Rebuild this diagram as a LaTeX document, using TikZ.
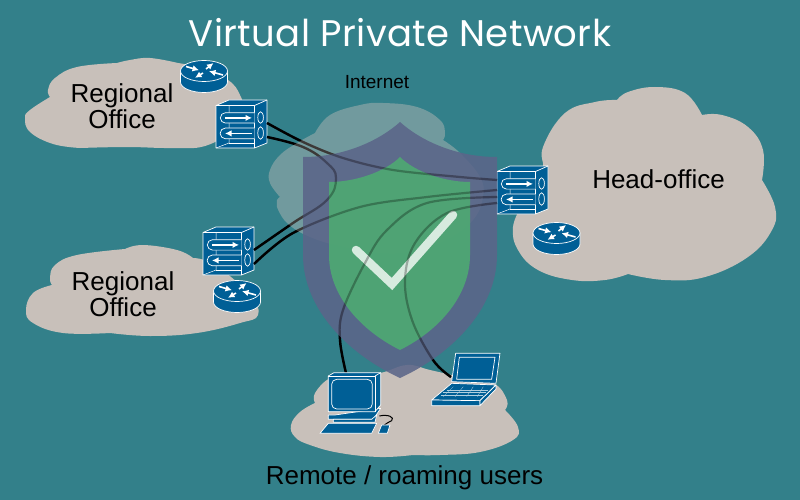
\documentclass[tikz,border=0pt]{standalone}
\usepackage{fontspec}
\setmainfont{Liberation Sans}
\newfontfamily\titlefont[LetterSpace=1]{Poppins}
\usetikzlibrary{arrows.meta}
\definecolor{bgteal}{HTML}{33808A}
\definecolor{cloudc}{HTML}{C8C0BA}
\definecolor{devblue}{HTML}{005F96}
\definecolor{shieldc}{HTML}{5B6589}
\definecolor{greenc}{HTML}{4EA873}
\tikzset{
  cloudshape/.style={fill=cloudc,draw=none},
  devline/.style={draw=white,line width=.7pt,line join=round},
  devfill/.style={fill=devblue,draw=white,line width=.7pt,line join=round},
  wharrow/.style={draw=white,line width=1.6pt,-{Latex[length=6.5pt,width=6.5pt]}},
  cable/.style={draw=black,line width=2.4pt},
  cablefaint/.style={draw=black,line width=2.2pt,opacity=.28},
  label/.style={font=\fontsize{26}{25.5}\selectfont,align=center,text=black,inner sep=0pt},
  router/.pic={
    \path[devfill] (-23.5,0) -- (-23.5,11) arc[start angle=180,end angle=360,x radius=23.5,y radius=-10.5] -- (23.5,0) -- cycle;
    \path[devfill] (0,0) ellipse[x radius=23.5,y radius=10.5];
    \draw[wharrow] (-18,-4.5) -- (-5,-.8);
    \draw[wharrow] (-1,2) -- (-9,6.8);
    \draw[wharrow] (2,-2) -- (9.5,-8);
    \draw[wharrow] (19,4) -- (5,.2);
  },
  firewall/.pic={
    \path[devfill] (0,5.5) -- (13,0) -- (51,0) -- (51,43) -- (38.5,48) -- (0,48) -- cycle;
    \draw[devline] (0,5.5) -- (38.5,5.5) -- (38.5,48);
    \draw[devline] (38.5,5.5) -- (51,0);
    \draw[devline,line width=.5pt] (13,5.5) -- (13,43) -- (0,48);
    \draw[devline,line width=.5pt] (13,43) -- (38.5,43);
    \draw[devline,fill=devblue] (38.5,12.7) -- (9.5,12.7) arc[start angle=270,end angle=90,radius=5.2] -- (38.5,23.1);
    \draw[devline,fill=devblue] (38.5,28) -- (9.5,28) arc[start angle=270,end angle=90,radius=5.4] -- (38.5,38.8);
    \draw[wharrow] (9,17.9) -- (36,17.9);
    \draw[wharrow] (36,33.4) -- (9,33.4);
    \draw[devline] (44.6,17.5) ellipse[x radius=2.8,y radius=5.8];
    \draw[devline] (44.6,33) ellipse[x radius=2.8,y radius=6.3];
    \coordinate (-p1) at (51,23);
    \coordinate (-p2) at (51,37);
    \coordinate (-w1) at (0,14);
    \coordinate (-w2) at (0,24);
    \coordinate (-w3) at (0,31);
    \coordinate (-w4) at (0,37);
  }
}
\newcommand{\cablepaths}[1]{%
  \draw[#1] plot[smooth,tension=.55] coordinates {(fwa-p1) (303,142) (343,158) (393,170) (460,177) (fwh-w1)};
  \draw[#1] plot[smooth,tension=.7] coordinates {(fwa-p2) (303,147) (327,163) (336,178) (327,200) (293,223) (fwb-p1)};
  \draw[#1] plot[smooth,tension=.55] coordinates {(fwb-p2) (293,233) (360,207) (427,197) (fwh-w2)};
  \draw[#1] plot[smooth,tension=.6] coordinates {(fwh-w3) (427,203) (387,230) (365,263) (343,310) (340,340) (desk)};
  \draw[#1] plot[smooth,tension=.6] coordinates {(fwh-w4) (447,213) (415,243) (405,280) (412,320) (433,360) (lap)};
}
\begin{document}
\begin{tikzpicture}[x=1pt,y=-1pt]
\useasboundingbox (0,0) rectangle (800,500);
\fill[bgteal] (0,0) rectangle (800,500);

% office clouds, one smooth run per lobe
\fill[cloudshape] plot[smooth,tension=.7] coordinates {(50,97) (30,110) (25,118) (30,132) (53,144) (80,148)}
  -- plot[smooth,tension=.7] coordinates {(80,148) (127,147) (170,148) (205,146) (230,130) (241,107) (240,95) (228,80) (200,68) (178,63)}
  -- plot[smooth,tension=.7] coordinates {(178,63) (150,58) (130,60) (117,63)}
  -- plot[smooth,tension=.7] coordinates {(117,63) (77,67) (55,78) (48,90) (50,97)} -- cycle;
\fill[cloudshape] plot[smooth,tension=.7] coordinates {(52,285) (33,293) (26,310) (33,323) (63,333) (110,333)}
  -- plot[smooth,tension=.7] coordinates {(110,333) (150,336) (197,333) (240,323) (258,315) (250,295) (215,265) (193,258)}
  -- plot[smooth,tension=.7] coordinates {(193,258) (177,250) (143,245) (125,249)}
  -- plot[smooth,tension=.7] coordinates {(125,249) (77,255) (55,265) (50,278) (52,285)} -- cycle;
\fill[cloudshape] plot[smooth,tension=.7] coordinates {(617,100) (628,92) (655,87) (685,93) (702,115)}
  -- plot[smooth,tension=.7] coordinates {(702,115) (722,115) (748,127) (763,150) (762,180)}
  -- plot[smooth,tension=.7] coordinates {(762,180) (775,207) (772,230) (748,257) (705,277) (665,280) (628,274)}
  -- plot[smooth,tension=.7] coordinates {(628,274) (605,280) (572,280) (538,270) (518,250) (513,227) (522,205)}
  -- plot[smooth,tension=.7] coordinates {(522,205) (542,173) (543,147) (565,113) (595,102) (617,100)} -- cycle;
\fill[cloudshape] plot[smooth,tension=.7] coordinates {(315,403) (300,412) (291,425) (295,437) (310,445) (340,453) (380,457) (413,455)}
  -- plot[smooth,tension=.7] coordinates {(413,455) (440,455) (480,452) (513,440) (518,427) (505,410)}
  -- plot[smooth,tension=.7] coordinates {(505,410) (507,400) (493,383) (460,377)}
  -- plot[smooth,tension=.7] coordinates {(460,377) (430,370) (407,365) (380,373) (350,375)}
  -- plot[smooth,tension=.7] coordinates {(350,375) (330,378) (315,393) (315,403)} -- cycle;

% devices
\pic (rta) at (204,71) {router};
\pic (rth) at (556.5,233) {router};
\pic (rtb) at (237,291) {router};
\pic (fwa) at (216,100) {firewall};
\pic (fwh) at (497,166) {firewall};
\pic (fwb) at (203,227) {firewall};

\coordinate (desk) at (346,373);
\coordinate (lap) at (451,377);

% cables
\cablepaths{cable}

% internet cloud
\fill[cloudc,opacity=.42] plot[smooth,tension=.7] coordinates {(315,133) (330,115) (360,105) (383,103) (417,107) (440,120) (445,133) (443,140)}
  -- plot[smooth,tension=.7] coordinates {(443,140) (460,153) (480,177) (483,197) (473,220) (447,240) (410,252) (377,253) (343,247) (310,237) (287,223) (277,207)}
  -- plot[smooth,tension=.7] coordinates {(277,207) (277,200) (280,197)}
  -- plot[smooth,tension=.7] coordinates {(280,197) (270,183) (270,170) (280,155) (297,143) (315,133)} -- cycle;

% shield
\fill[shieldc,opacity=.88] (303,157) .. controls (345,157) and (380,140) .. (400,122) .. controls (420,140) and (455,157) .. (497,157) -- (497,255) .. controls (497,310) and (450,355) .. (400,378) .. controls (350,355) and (303,310) .. (303,255) -- cycle;
\fill[greenc,opacity=.93] (329,182) .. controls (355,182) and (385,172) .. (400,157) .. controls (415,172) and (445,182) .. (470,182) -- (470,255) .. controls (470,295) and (440,330) .. (400,350) .. controls (360,330) and (329,295) .. (329,255) -- cycle;
\draw[white!88!greenc,opacity=.88,line width=8.5pt,line cap=round,line join=miter] (356,250) -- (392,284) -- (453,215);

\cablepaths{cablefaint}

% desktop computer
\begin{scope}[shift={(280,340)},x=.3333pt,y=-.3333pt]
  \draw[black,line width=1pt] (298,228) .. controls (325,222) and (345,232) .. (335,242) .. controls (328,248) and (318,248) .. (312,256);
  \path[devfill] (145,225) -- (165,225) -- (302,205) -- (280,238) -- (145,238) -- cycle;
  \path[devfill] (160,238) -- (275,238) -- (290,225) -- (285,247) -- (160,247) -- cycle;
  \path[devfill] (120,280) -- (145,250) -- (290,250) -- (275,280) -- cycle;
  \path[devfill] (295,280) -- (305,255) -- (330,255) -- (322,280) -- cycle;
  \path[devfill] (145,108) -- (162,98) -- (302,98) -- (302,195) -- (285,215) -- (145,215) -- cycle;
  \draw[devline] (145,108) -- (285,108) -- (285,215);
  \draw[devline] (285,108) -- (302,98);
  \draw[devline,rounded corners=5pt] (155,118) rectangle (277,207);
\end{scope}

% laptop
\begin{scope}[shift={(280,340)},x=.3333pt,y=-.3333pt]
  \path[devfill] (515,125) -- (527,40) -- (660,40) -- (648,130) -- cycle;
  \draw[devline] (530,118) -- (538,52) -- (645,52) -- (635,118) -- cycle;
  \path[devfill] (455,180) -- (515,130) -- (648,135) -- (600,182) -- cycle;
  \path[devfill] (455,180) -- (600,182) -- (600,197) -- (455,197) -- cycle;
  \path[devfill] (600,182) -- (648,135) -- (648,147) -- (600,197) -- cycle;
  \draw[white!70!devblue,line width=.3pt] (500,150) -- (625,150) (490,157) -- (618,157) (483,164) -- (610,164);
  \draw[white!70!devblue,line width=.3pt] (520,140) -- (490,170) (550,140) -- (525,170) (580,140) -- (560,170) (610,140) -- (592,170);
\end{scope}

% labels
\node[font=\titlefont\fontsize{37}{40}\selectfont,text=white,inner sep=0pt,anchor=base] (title) at (400,47) {Virtual Private Network};
\node[font=\fontsize{19}{20}\selectfont,inner sep=0pt,text=black] (internet) at (377,82) {Internet};
\node[label] (ofa) at (122,106) {Regional\\Office};
\node[label] (ofb) at (123,294) {Regional\\Office};
\node[label] (hq) at (658.5,179) {Head-office};
\node[label] (users) at (404.5,478) {Remote / roaming users};
\end{tikzpicture}
\end{document}
